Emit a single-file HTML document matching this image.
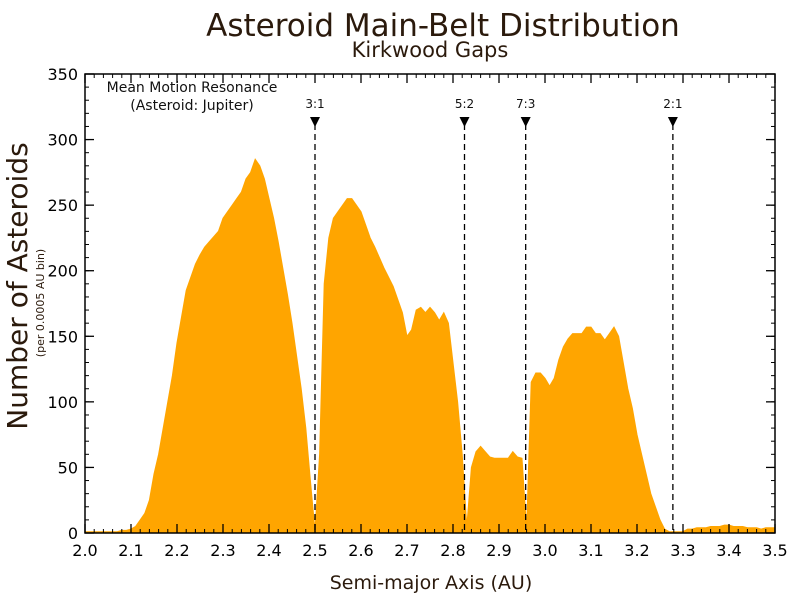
<!DOCTYPE html>
<html><head><meta charset="utf-8"><style>
body{margin:0;background:#fff}
svg{display:block;font-family:"DejaVu Sans","Liberation Sans",sans-serif}
</style></head><body>
<svg id="chart" width="792" height="612" viewBox="0 0 792 612" xmlns="http://www.w3.org/2000/svg">
<text x="443" y="36" text-anchor="middle" font-size="31" fill="#2b1a0c">Asteroid Main-Belt Distribution</text>
<text x="430" y="57" text-anchor="middle" font-size="21" fill="#2b1a0c">Kirkwood Gaps</text>
<text transform="translate(27,286) rotate(-90)" text-anchor="middle" font-size="28" fill="#2b1a0c">Number of Asteroids</text>
<text transform="translate(44,303) rotate(-90)" text-anchor="middle" font-size="11" fill="#2b1a0c">(per 0.0005 AU bin)</text>
<text x="431" y="589" text-anchor="middle" font-size="19" fill="#2b1a0c">Semi-major Axis (AU)</text>
<text x="192" y="92" text-anchor="middle" font-size="14" fill="#111">Mean Motion Resonance</text>
<text x="192" y="110" text-anchor="middle" font-size="14" fill="#111">(Asteroid: Jupiter)</text>
<g id="plot"></g>
</svg>
<script>
const binStart = 2.0;
const binStep = 0.01;
const counts = [1,1,1,1,1,1,1,1,2,2,
3,5,10,15,25,45,60,80,100,120,
145,165,185,195,205,212,218,222,226,230,
240,245,250,255,260,270,275,285,280,270,
255,240,222,202,182,160,135,110,80,40,
2,60,190,225,240,245,250,255,255,250,
245,235,225,218,210,202,195,188,178,168,
150,155,170,172,168,172,168,162,168,160,
130,100,60,5,50,62,66,62,58,57,
57,57,57,62,58,57,3,115,122,122,
118,112,118,132,142,148,152,152,152,157,
157,152,152,147,152,157,150,130,110,95,
75,60,45,30,20,10,3,1,1,1,
1,3,3,4,4,4,5,5,5,6,
6,5,5,5,4,4,4,3,4,4,4];
const xTicks = [2.0,2.1,2.2,2.3,2.4,2.5,2.6,2.7,2.8,2.9,3.0,3.1,3.2,3.3,3.4,3.5];
const yTicks = [0,50,100,150,200,250,300,350];
const resLabels = ["3:1","5:2","7:3","2:1"];
const resPositions = [2.50,2.825,2.958,3.278];

const L=85,R=775,T=74,B=533;
const xs=v=>L+(v-2.0)/1.5*(R-L);
const ys=v=>B-v/350*(B-T);
const NS="http://www.w3.org/2000/svg";
const g=document.getElementById('plot');
function mk(tag,attrs){const e=document.createElementNS(NS,tag);for(const k in attrs)e.setAttribute(k,attrs[k]);g.appendChild(e);return e;}

let pts=[xs(binStart)+","+ys(0)];
counts.forEach((c,i)=>{const x=binStart+i*binStep;pts.push(xs(x)+","+ys(c));});
pts.push(xs(binStart+(counts.length-1)*binStep)+","+ys(0));
const area=mk('polygon',{points:pts.join(' '),fill:'#ffa500',stroke:'#ffa500','stroke-width':1});



resPositions.forEach((p,i)=>{
  const x=xs(p);
  const ln=mk('line',{x1:x,y1:124,x2:x,y2:B,stroke:'#000','stroke-width':1.3,'stroke-dasharray':'6,4'});
  
  
  const tri=mk('polygon',{points:`${x-5},117 ${x+5},117 ${x},127`,fill:'#000'});
  
  
  const t=mk('text',{x:x,y:108,'text-anchor':'middle','font-size':12,fill:'#111'});
  t.textContent=resLabels[i];
  
  
});

const frame=mk('rect',{x:L,y:T,width:R-L,height:B-T,fill:'none',stroke:'#000','stroke-width':1.5});



for(let v=2.0;v<=3.5001;v+=0.02){const x=xs(v);
  mk('line',{x1:x,y1:B,x2:x,y2:B-4,stroke:'#000'});mk('line',{x1:x,y1:T,x2:x,y2:T+4,stroke:'#000'});}
xTicks.forEach(v=>{const x=xs(v);
  mk('line',{x1:x,y1:B,x2:x,y2:B-9,stroke:'#000','stroke-width':1.3});mk('line',{x1:x,y1:T,x2:x,y2:T+9,stroke:'#000','stroke-width':1.3});
  const t=mk('text',{x:x,y:B+23,'text-anchor':'middle','font-size':16,fill:'#000'});
  t.textContent=v.toFixed(1);
  
  
});
for(let v=0;v<=350;v+=10){const y=ys(v);
  mk('line',{x1:L,y1:y,x2:L+4,y2:y,stroke:'#000'});mk('line',{x1:R,y1:y,x2:R-4,y2:y,stroke:'#000'});}
yTicks.forEach(v=>{const y=ys(v);
  mk('line',{x1:L,y1:y,x2:L+9,y2:y,stroke:'#000','stroke-width':1.3});mk('line',{x1:R,y1:y,x2:R-9,y2:y,stroke:'#000','stroke-width':1.3});
  const t=mk('text',{x:L-7,y:y+6,'text-anchor':'end','font-size':16,fill:'#000'});
  t.textContent=v;
  
  
});
</script>
</body></html>
